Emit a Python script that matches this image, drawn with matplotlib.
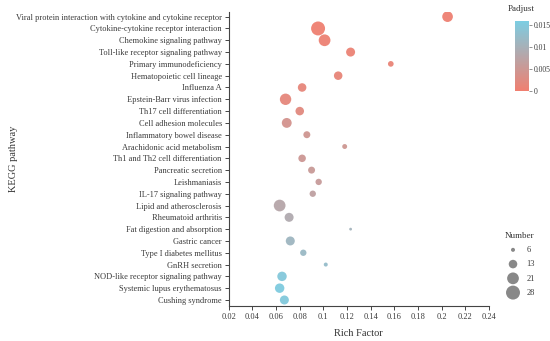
import matplotlib.pyplot as plt
import matplotlib.colors as mcolors
import numpy as np

# KEGG enrichment bubble chart
pathways = [
    "Viral protein interaction with cytokine and cytokine receptor",
    "Cytokine-cytokine receptor interaction",
    "Chemokine signaling pathway",
    "Toll-like receptor signaling pathway",
    "Primary immunodeficiency",
    "Hematopoietic cell lineage",
    "Influenza A",
    "Epstein-Barr virus infection",
    "Th17 cell differentiation",
    "Cell adhesion molecules",
    "Inflammatory bowel disease",
    "Arachidonic acid metabolism",
    "Th1 and Th2 cell differentiation",
    "Pancreatic secretion",
    "Leishmaniasis",
    "IL-17 signaling pathway",
    "Lipid and atherosclerosis",
    "Rheumatoid arthritis",
    "Fat digestion and absorption",
    "Gastric cancer",
    "Type I diabetes mellitus",
    "GnRH secretion",
    "NOD-like receptor signaling pathway",
    "Systemic lupus erythematosus",
    "Cushing syndrome",
]
rich_factor = [0.205, 0.0955, 0.101, 0.123, 0.157, 0.1125, 0.082, 0.068, 0.080,
               0.069, 0.086, 0.118, 0.082, 0.090, 0.096, 0.091, 0.063, 0.071,
               0.123, 0.072, 0.083, 0.102, 0.065, 0.063, 0.067]
number = [18, 28, 21, 14, 8, 13, 13, 20, 13, 16, 10, 7, 11, 10, 9, 9, 21, 14,
          5, 14, 9, 6, 15, 15, 14]
padjust = [0.0003, 0.0002, 0.0004, 0.0008, 0.0010, 0.0012, 0.0014, 0.0016,
           0.0020, 0.0040, 0.0046, 0.0048, 0.0050, 0.0055, 0.0058, 0.0068,
           0.0080, 0.0088, 0.0105, 0.0112, 0.0118, 0.0125, 0.0148, 0.0155, 0.0150]
legend_numbers = [6, 13, 21, 28]


def to_area(n):
    # linear in area: 6 -> ~4 px, 28 -> ~14 px diameter
    return 8.3 + (np.asarray(n) - 6) / 22 * (101 - 8.3)


plt.rcParams['font.family'] = ['Liberation Serif', 'DejaVu Serif']
cmap = mcolors.LinearSegmentedColormap.from_list('padj', ['#F07F70', '#7CCDE2'])
norm = mcolors.Normalize(vmin=0, vmax=0.0159)

fig = plt.figure(figsize=(5.5, 3.41), dpi=100)
ax = fig.add_axes([0.416, 0.103, 0.473, 0.862])

y = np.arange(len(pathways))[::-1]
ax.scatter(rich_factor, y, s=to_area(number), c=padjust, cmap=cmap, norm=norm,
           edgecolors='none', alpha=0.95, zorder=3)

ax.set_yticks(y)
ax.set_yticklabels(pathways, fontsize=6, color='#3a3a3a')
ax.set_ylim(-0.5, 24.4)
ax.set_xlim(0.02, 0.24)
xt = np.arange(0.02, 0.241, 0.02)
ax.set_xticks(xt)
ax.set_xticklabels(['0.02', '0.04', '0.06', '0.08', '0.1', '0.12', '0.14',
                    '0.16', '0.18', '0.2', '0.22', '0.24'],
                   fontsize=6, color='#3a3a3a')
ax.set_xlabel("Rich Factor", fontsize=7.5, color='#333333', labelpad=6)
ax.set_ylabel("KEGG pathway", fontsize=7.5, color='#333333')
ax.yaxis.set_label_coords(-0.81, 0.5)
for side in ['top', 'right']:
    ax.spines[side].set_visible(False)
for side in ['left', 'bottom']:
    ax.spines[side].set_color('#444444')
    ax.spines[side].set_linewidth(0.8)
ax.tick_params(axis='both', length=3, width=0.7, color='#444444', pad=2)

# colorbar
cax = fig.add_axes([0.937, 0.734, 0.024, 0.204])
cb = fig.colorbar(plt.cm.ScalarMappable(norm=norm, cmap=cmap), cax=cax)
cb.set_ticks([0, 0.005, 0.01, 0.015])
cb.set_ticklabels(['0', '0.005', '0.01', '0.015'])
cb.outline.set_visible(False)
cax.tick_params(labelsize=5.5, length=2, width=0.5, color='#666666', labelcolor='#3a3a3a', pad=2)
fig.text(0.948, 0.975, "Padjust", fontsize=6.5, color='#333333', ha='center', va='center')

# size legend
handles = [ax.scatter([], [], s=to_area(n), color='#888888', edgecolors='none')
           for n in legend_numbers]
leg = fig.legend(handles, [str(n) for n in legend_numbers], title="Number",
                 loc='center', bbox_to_anchor=(0.945, 0.225), frameon=False,
                 fontsize=6, title_fontsize=6.5, labelspacing=0.75, handletextpad=0.6,
                 borderpad=0.2)
for t in leg.get_texts():
    t.set_color('#3a3a3a')
leg.get_title().set_color('#333333')

fig.savefig("out.png", dpi=100)
